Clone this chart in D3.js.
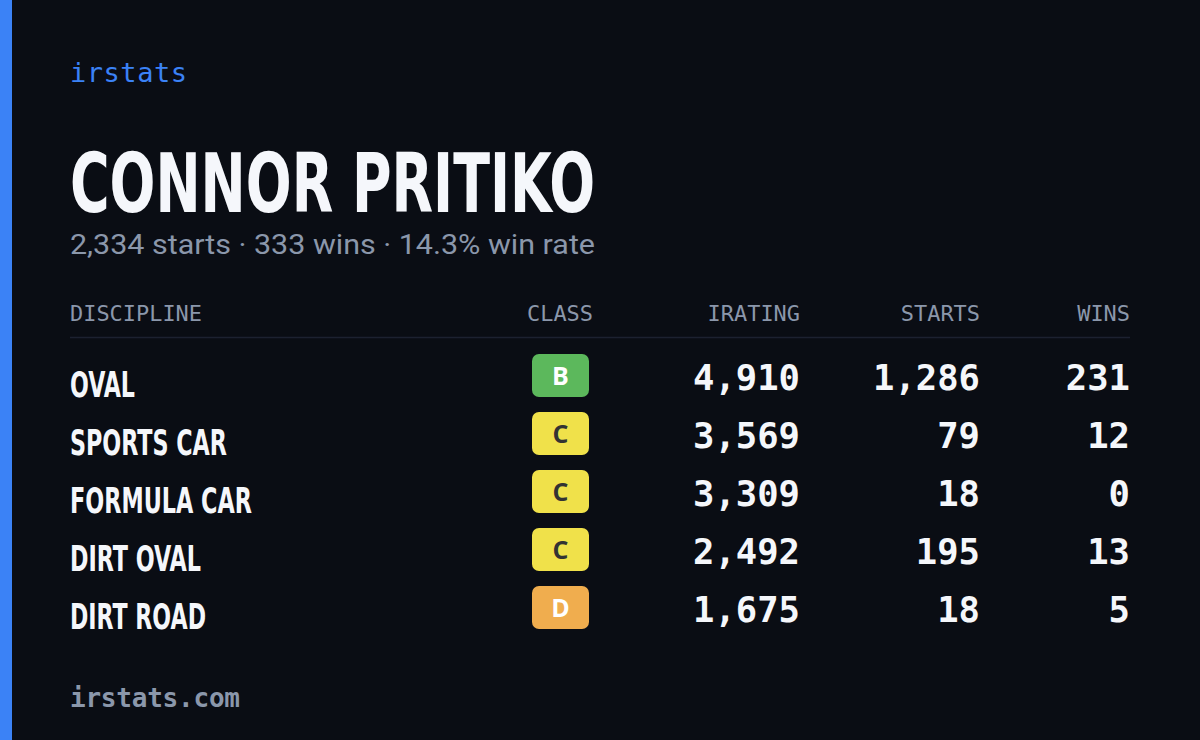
<!DOCTYPE html>
<html><head><meta charset="utf-8">
<script src="https://cdn.jsdelivr.net/npm/d3@7"></script>
<style>body{margin:0;background:#0a0d14;}</style>
</head><body>
<script>
const disciplines = ["OVAL","SPORTS CAR","FORMULA CAR","DIRT OVAL","DIRT ROAD"];
const nameWidths = [65,157,182,131,136];
const classes = ["B","C","C","C","D"];
const iratings = [4910,3569,3309,2492,1675];
const starts = [1286,79,18,195,18];
const wins = [231,12,0,13,5];
const headers = ["DISCIPLINE","CLASS","IRATING","STARTS","WINS"];
const classColors = {B:"#5cb85c",C:"#f0e14a",D:"#f0ad4e"};
const classText = {B:"#ffffff",C:"#333333",D:"#ffffff"};

const svg = d3.select("body").append("svg").attr("width",1200).attr("height",740);
svg.append("rect").attr("width",1200).attr("height",740).attr("fill","#0a0d14");
svg.append("rect").attr("width",12).attr("height",740).attr("fill","#3b82f6");
const mono = "'DejaVu Sans Mono', monospace";
const cond = "'DejaVu Sans Condensed','DejaVu Sans',sans-serif";
svg.append("text").attr("x",70).attr("y",82).text("irstats").attr("fill","#3b82f6")
  .style("font-family",mono).style("font-size","27px").style("font-weight","500").attr("textLength",117);
svg.append("text").attr("x",70).attr("y",212).text("CONNOR PRITIKO").attr("fill","#f5f7fb")
  .style("font-family",cond).style("font-weight","bold").style("font-size","82px").attr("textLength",525).attr("lengthAdjust","spacingAndGlyphs");
svg.append("text").attr("x",70).attr("y",254).text("2,334 starts · 333 wins · 14.3% win rate").attr("fill","#8b97ab")
  .style("font-family","Roboto, sans-serif").style("font-size","27px").attr("textLength",525).attr("lengthAdjust","spacingAndGlyphs");
svg.append("text").attr("x",70).attr("y",707).text("irstats.com").attr("fill","#8b97ab")
  .style("font-family",mono).style("font-size","26px").style("font-weight","bold").attr("textLength",170);

const colX = [70,593,800,980,1130];
const anchors = ["start","end","end","end","end"];
headers.forEach((h,i)=>{
  svg.append("text").attr("x",colX[i]).attr("y",321).attr("text-anchor",anchors[i]).text(h)
   .attr("fill","#8b97ab").style("font-family",mono).style("font-size","21px")
   .attr("textLength",h.length*13.2).attr("lengthAdjust","spacingAndGlyphs");
});
svg.append("line").attr("x1",70).attr("x2",1130).attr("y1",337.5).attr("y2",337.5).attr("stroke","#1c2130").attr("stroke-width",1.5);

const y = d3.scaleBand().domain(d3.range(disciplines.length)).range([347,637]);
const fmt = d3.format(",");
const rows = svg.selectAll("g.row").data(disciplines).join("g").attr("transform",(d,i)=>`translate(0,${y(i)})`);
rows.append("text").attr("x",70).attr("y",50).text(d=>d).attr("fill","#f5f7fb")
  .style("font-family",cond).style("font-weight","bold").style("font-size","36px")
  .attr("textLength",(d,i)=>nameWidths[i]).attr("lengthAdjust","spacingAndGlyphs");
rows.append("rect").attr("x",532).attr("y",7).attr("width",57).attr("height",43).attr("rx",7)
  .attr("fill",(d,i)=>classColors[classes[i]]);
rows.append("text").attr("x",560.5).attr("y",38).attr("text-anchor","middle").text((d,i)=>classes[i])
  .attr("fill",(d,i)=>classText[classes[i]]).style("font-family","'Open Sans', sans-serif").style("font-weight","bold").style("font-size","25px");
[iratings,starts,wins].forEach((arr,j)=>{
  rows.append("text").attr("x",colX[j+2]).attr("y",43).attr("text-anchor","end").text((d,i)=>fmt(arr[i]))
    .attr("fill","#f5f7fb").style("font-family",mono).style("font-weight","bold").style("font-size","35px")
    .attr("textLength",(d,i)=>fmt(arr[i]).length*21.4).attr("lengthAdjust","spacingAndGlyphs");
});
</script>
</body></html>
